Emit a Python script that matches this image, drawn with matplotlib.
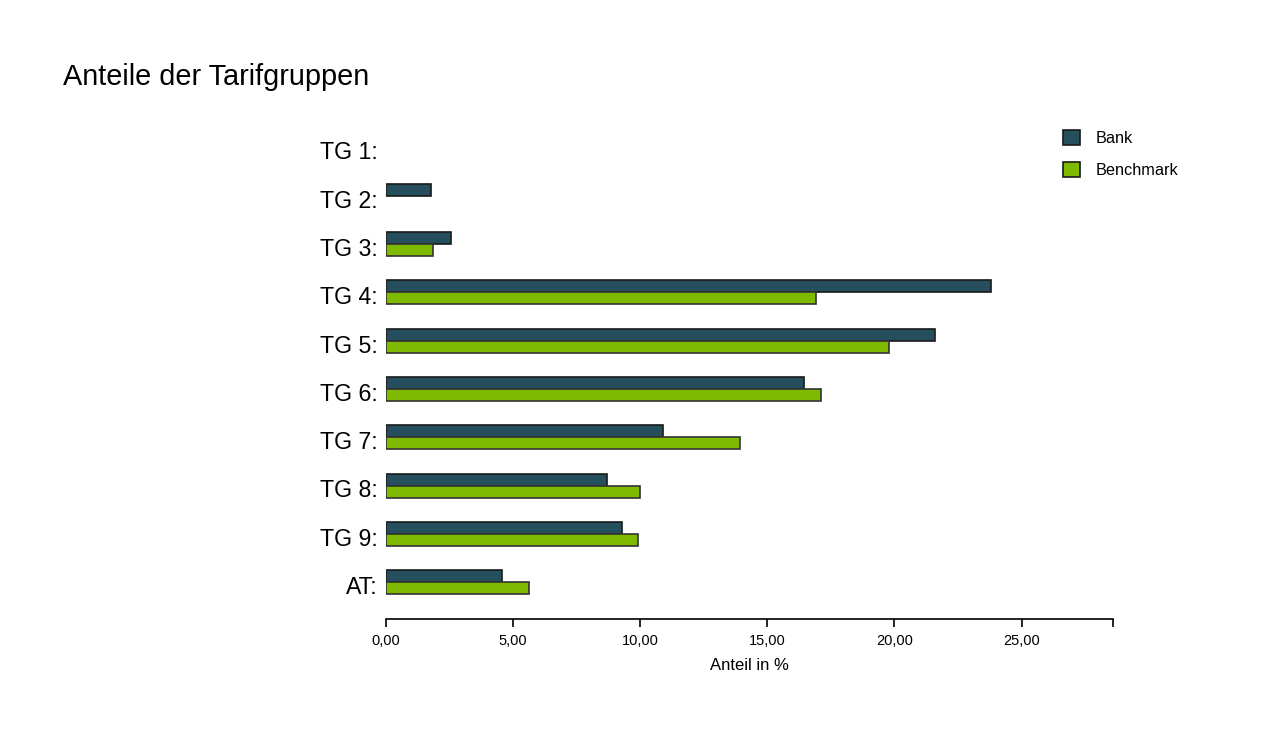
import matplotlib.pyplot as plt
import numpy as np

plt.rcParams['font.family'] = ['Liberation Sans', 'DejaVu Sans']

categories = ['TG 1:', 'TG 2:', 'TG 3:', 'TG 4:', 'TG 5:', 'TG 6:', 'TG 7:', 'TG 8:', 'TG 9:', 'AT:']
bank = [0.0, 1.77, 2.56, 23.8, 21.6, 16.45, 10.88, 8.7, 9.3, 4.55]
benchmark = [0.0, 0.0, 1.85, 16.9, 19.8, 17.1, 13.92, 10.0, 9.9, 5.62]
xticks = [0, 5, 10, 15, 20, 25]

bank_color = '#264f5e'
bench_color = '#7dba00'

fig = plt.figure(figsize=(12.86, 7.43), dpi=100)
ax = fig.add_axes([0.3002, 0.1669, 0.5653, 0.6635])

y = np.arange(len(categories)) - 0.06
h = 0.25
bank_edges = ['#1a1a1a' if v > 0 else 'none' for v in bank]
bench_edges = ['#333333' if v > 0 else 'none' for v in benchmark]
ax.barh(y - h / 2, bank, height=h, color=bank_color, edgecolor=bank_edges,
        linewidth=1.2, label='Bank')
ax.barh(y + h / 2, benchmark, height=h, color=bench_color, edgecolor=bench_edges,
        linewidth=1.2, label='Benchmark')

ax.set_ylim(9.7, -0.5)
ax.set_xlim(0, 28.6)
ax.set_yticks(np.arange(len(categories)))
ax.set_yticklabels(categories, fontsize=16.7)
ax.tick_params(axis='y', length=0, pad=6)
ax.set_xticks(xticks + [28.6])
ax.set_xticklabels([f'{v:.2f}'.replace('.', ',') for v in xticks] + [''], fontsize=10.5)
ax.tick_params(axis='x', length=6, width=1.2, direction='out', pad=5, color='black')

for s in ['top', 'right', 'left']:
    ax.spines[s].set_visible(False)
ax.spines['bottom'].set_linewidth(1.2)

ax.set_xlabel('Anteil in %', fontsize=12, labelpad=7)

fig.text(0.049, 0.896, 'Anteile der Tarifgruppen', fontsize=20.8, va='center', ha='left')

leg = ax.legend(loc='upper left', bbox_to_anchor=(0.815, 0.845), bbox_transform=fig.transFigure,
                frameon=False, fontsize=11.7, handlelength=1.05, handleheight=1.05,
                handletextpad=1.0, labelspacing=1.0)
for p in leg.get_patches():
    p.set_edgecolor('#1a1a1a')

plt.savefig('out.png', dpi=100)
plt.close()
